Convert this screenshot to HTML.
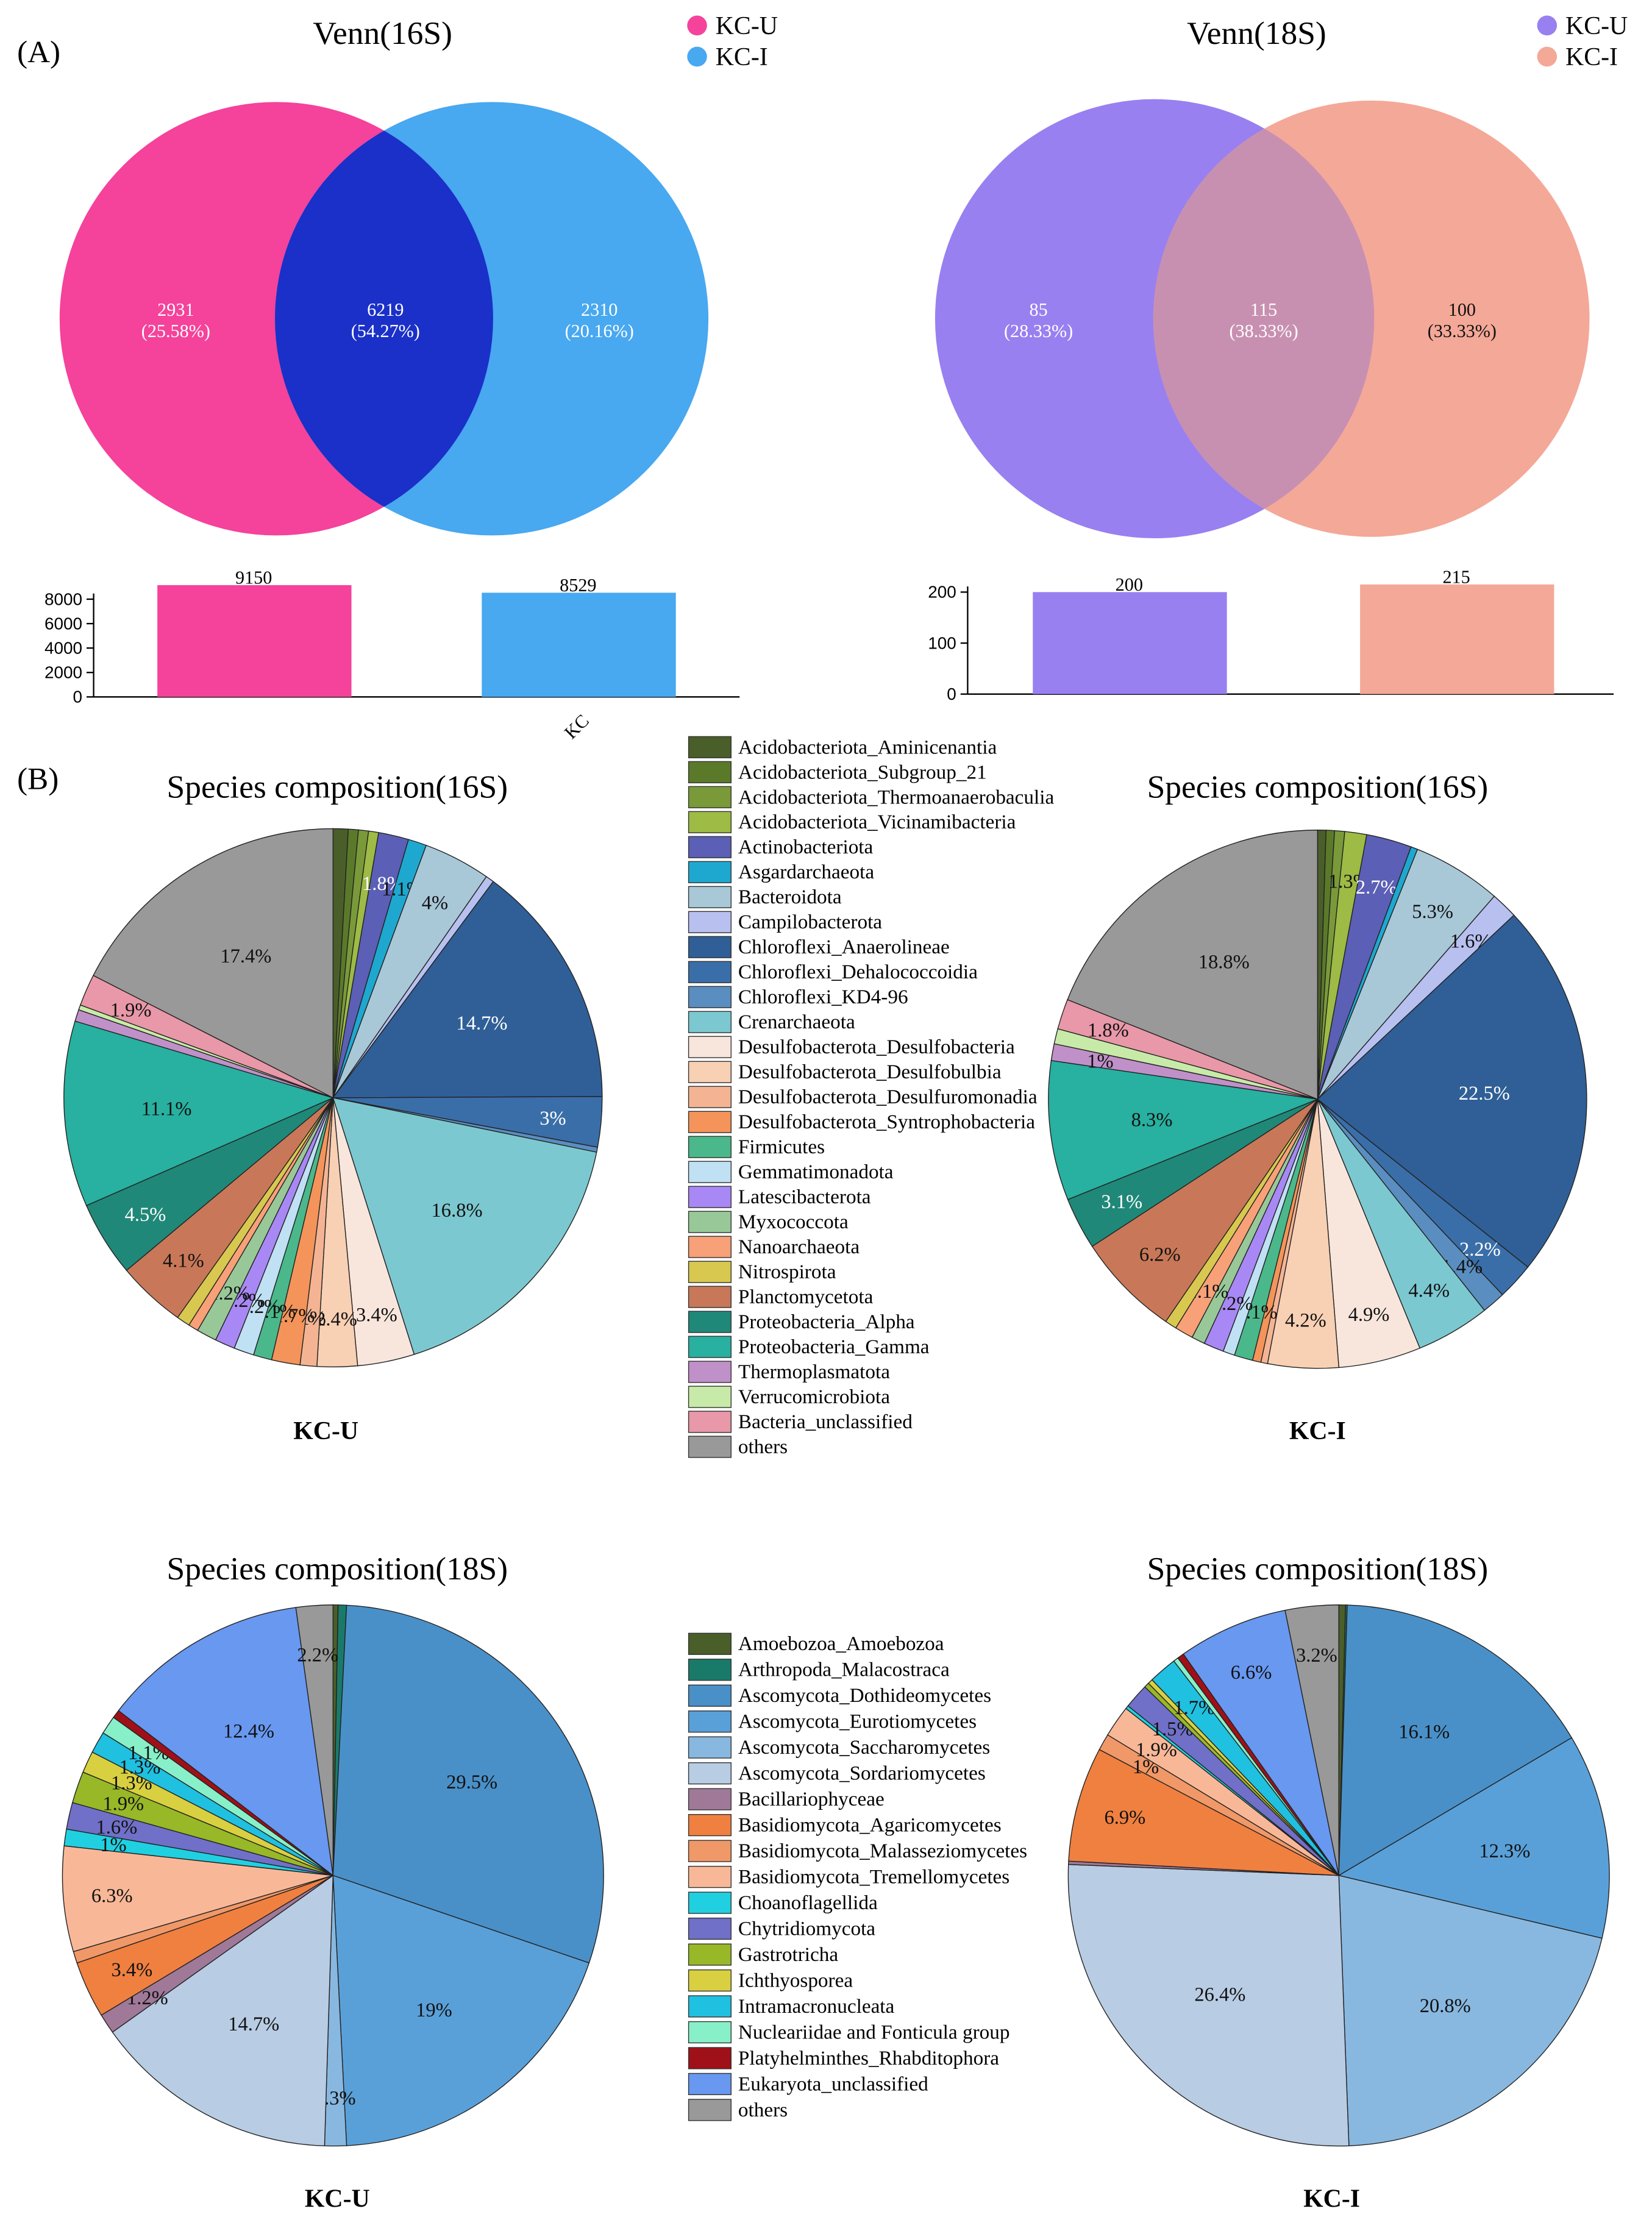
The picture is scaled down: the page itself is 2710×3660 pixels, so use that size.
<!DOCTYPE html>
<html><head><meta charset="utf-8"><style>
html,body{margin:0;padding:0;background:#fff}
svg{display:block;font-family:"Liberation Serif",serif}
</style></head><body>
<svg id="fig" width="2710" height="3660" viewBox="0 0 1166 1575" xmlns="http://www.w3.org/2000/svg">
<rect width="1166" height="1575" fill="#fff"/>
<text x="12" y="44" font-size="22">(A)</text>
<text x="12" y="557" font-size="22">(B)</text>
<g id="venn16">
<text x="270" y="31" font-size="23" text-anchor="middle">Venn(16S)</text>
<circle cx="492" cy="18" r="7" fill="#f5429a"/>
<text x="505" y="24" font-size="18">KC-U</text>
<circle cx="492" cy="40" r="7" fill="#48a8f0"/>
<text x="505" y="46" font-size="18">KC-I</text>
<clipPath id="c16"><circle cx="195" cy="225" r="153"/></clipPath>
<circle cx="195" cy="225" r="153" fill="#f5429a"/>
<circle cx="347" cy="225" r="153" fill="#48a8f0"/>
<circle cx="347" cy="225" r="153" fill="#1a30c8" clip-path="url(#c16)"/>
<g fill="#fff" font-size="13" text-anchor="middle">
<text x="124" y="223">2931</text><text x="124" y="238">(25.58%)</text>
<text x="272" y="223">6219</text><text x="272" y="238">(54.27%)</text>
<text x="423" y="223">2310</text><text x="423" y="238">(20.16%)</text>
</g>
</g>
<g id="venn18">
<text x="887" y="31" font-size="23" text-anchor="middle">Venn(18S)</text>
<circle cx="1092" cy="18" r="7" fill="#9880f0"/>
<text x="1105" y="24" font-size="18">KC-U</text>
<circle cx="1092" cy="40" r="7" fill="#f4a898"/>
<text x="1105" y="46" font-size="18">KC-I</text>
<clipPath id="c18"><circle cx="815" cy="225" r="155"/></clipPath>
<circle cx="815" cy="225" r="155" fill="#9880f0"/>
<circle cx="968" cy="225" r="154" fill="#f4a898"/>
<circle cx="968" cy="225" r="154" fill="#c890b0" clip-path="url(#c18)"/>
<g fill="#fff" font-size="13" text-anchor="middle">
<text x="733" y="223">85</text><text x="733" y="238">(28.33%)</text>
<text x="892" y="223">115</text><text x="892" y="238">(38.33%)</text>
</g>
<g fill="#111" font-size="13" text-anchor="middle">
<text x="1032" y="223">100</text><text x="1032" y="238">(33.33%)</text>
</g>
</g>
<g id="bars"></g>
<g id="pies"></g>
<g id="legends"></g>
<g font-size="23" text-anchor="middle">
<text x="238" y="563">Species composition(16S)</text>
<text x="930" y="563">Species composition(16S)</text>
<text x="238" y="1115">Species composition(18S)</text>
<text x="930" y="1115">Species composition(18S)</text>
</g>
<g font-size="18" font-weight="bold" text-anchor="middle">
<text x="230" y="1016">KC-U</text>
<text x="930" y="1016">KC-I</text>
<text x="238" y="1558">KC-U</text>
<text x="940" y="1558">KC-I</text>
</g>
</svg>
<script>
const bar16Values = [9150, 8529];
const bar16Ticks = [0, 2000, 4000, 6000, 8000];
const bar18Values = [200, 215];
const bar18Ticks = [0, 100, 200];
const cats16 = ["Acidobacteriota_Aminicenantia","Acidobacteriota_Subgroup_21","Acidobacteriota_Thermoanaerobaculia","Acidobacteriota_Vicinamibacteria","Actinobacteriota","Asgardarchaeota","Bacteroidota","Campilobacterota","Chloroflexi_Anaerolineae","Chloroflexi_Dehalococcoidia","Chloroflexi_KD4-96","Crenarchaeota","Desulfobacterota_Desulfobacteria","Desulfobacterota_Desulfobulbia","Desulfobacterota_Desulfuromonadia","Desulfobacterota_Syntrophobacteria","Firmicutes","Gemmatimonadota","Latescibacterota","Myxococcota","Nanoarchaeota","Nitrospirota","Planctomycetota","Proteobacteria_Alpha","Proteobacteria_Gamma","Thermoplasmatota","Verrucomicrobiota","Bacteria_unclassified","others"];
const vals16U = [0.9,0.6,0.6,0.6,1.8,1.1,4,0.5,14.7,3,0.3,16.8,3.4,2.4,1,1.7,1.1,1.2,1.2,1.2,0.6,0.8,4.1,4.5,11.1,0.7,0.3,1.9,17.4];
const vals16I = [0.5,0.5,0.6,1.3,2.7,0.4,5.3,1.6,22.5,2.2,1.4,4.4,4.9,4.2,0.4,0.5,1.1,0.7,1.2,0.8,1.1,0.7,6.2,3.1,8.3,1,0.9,1.8,18.8];
const cats18 = ["Amoebozoa_Amoebozoa","Arthropoda_Malacostraca","Ascomycota_Dothideomycetes","Ascomycota_Eurotiomycetes","Ascomycota_Saccharomycetes","Ascomycota_Sordariomycetes","Bacillariophyceae","Basidiomycota_Agaricomycetes","Basidiomycota_Malasseziomycetes","Basidiomycota_Tremellomycetes","Choanoflagellida","Chytridiomycota","Gastrotricha","Ichthyosporea","Intramacronucleata","Nucleariidae and Fonticula group","Platyhelminthes_Rhabditophora","Eukaryota_unclassified","others"];
const vals18U = [0.3,0.5,29.5,19,1.3,14.7,1.2,3.4,0.7,6.3,1,1.6,1.9,1.3,1.3,1.1,0.5,12.4,2.2];
const vals18I = [0.4,0.1,16.1,12.3,20.8,26.4,0.2,6.9,1,1.9,0.2,1.5,0.3,0.3,1.7,0.3,0.4,6.6,3.2];
const col16 = ["#4a5e2a","#5a7a2a","#7a9a3a","#9dbb45","#5b5fb5","#1ea8d0","#a8c8d8","#b8c0f0","#2f5f96","#3a6ea8","#5a8ec0","#7cc8d0","#f8e6dc","#f8d0b4","#f4b494","#f4945a","#4ab88a","#c0e0f4","#a888f4","#98c898","#f8a078","#d8c850","#c87858","#208878","#28b0a0","#c090c8","#c8eaa8","#e898a8","#999999"];
const col18 = ["#4a5e2a","#1a7a6a","#4a90c8","#5aa0d8","#88b8e0","#b8cce4","#a07898","#f08040","#f09868","#f8b898","#20d0e0","#7070c8","#98b828","#d8d040","#20c0e0","#88f0c8","#a01018","#6898f0","#999999"];
const NS="http://www.w3.org/2000/svg";
function mk(tag,attrs,parent){const e=document.createElementNS(NS,tag);for(const k in attrs)e.setAttribute(k,attrs[k]);parent.appendChild(e);return e;}
const barsG=document.getElementById('bars');
function barChart(vals,ticks,cfg,barCols,prefix){
  const y=v=>cfg.y0-(v-0)*(cfg.y0-cfg.yTop)/(ticks[ticks.length-1]-ticks[0]);
  const ax=mk('line',{x1:cfg.ax,y1:cfg.yTop-4,x2:cfg.ax,y2:cfg.y0,stroke:'#000','stroke-width':1},barsG);
  
  
  const xa=mk('line',{x1:cfg.ax,y1:cfg.y0,x2:cfg.xEnd,y2:cfg.y0,stroke:'#000','stroke-width':1},barsG);
  
  
  ticks.forEach(t=>{
    mk('line',{x1:cfg.ax-5,y1:y(t),x2:cfg.ax,y2:y(t),stroke:'#000'},barsG);
    const tx=mk('text',{x:cfg.ax-8,y:y(t)+4,'font-size':12,'text-anchor':'end','font-family':'Liberation Sans, sans-serif'},barsG);
    tx.textContent=t;
    
    
  });
  vals.forEach((v,i)=>{
    const x=cfg.bx[i];
    const r=mk('rect',{x:x,y:y(v),width:137,height:cfg.y0-y(v),fill:barCols[i]},barsG);
    
    
    const t=mk('text',{x:x+68,y:y(v)-1,'font-size':13,'text-anchor':'middle'},barsG);
    t.textContent=v;
    
    
  });
}
barChart(bar16Values,bar16Ticks,{ax:66,y0:492,yTop:423,xEnd:522,bx:[111,340]},["#f5429a","#48a8f0"],'bar-16s');
barChart(bar18Values,bar18Ticks,{ax:683,y0:490,yTop:418,xEnd:1139,bx:[729,960]},["#9880f0","#f4a898"],'bar-18s');
const kc=mk('text',{x:0,y:0,'font-size':13,transform:'translate(410,516) rotate(-45)','text-anchor':'middle'},barsG);
kc.textContent='KC';



const piesG=document.getElementById('pies');
function lum(h){const n=parseInt(h.slice(1),16);return 0.299*(n>>16)+0.587*((n>>8)&255)+0.114*(n&255);}
function pie(vals,cols,cx,cy,r,prefix,cats){
  const tot=vals.reduce((a,b)=>a+b,0);
  let a=-Math.PI/2;
  vals.forEach((v,i)=>{
    const da=v/tot*2*Math.PI, a2=a+da;
    const x1=cx+r*Math.cos(a),y1=cy+r*Math.sin(a),x2=cx+r*Math.cos(a2),y2=cy+r*Math.sin(a2);
    const p=mk('path',{d:`M${cx},${cy}L${x1},${y1}A${r},${r} 0 ${da>Math.PI?1:0} 1 ${x2},${y2}Z`,fill:cols[i],stroke:'#222','stroke-width':0.6},piesG);
    
    
    if(v>=1){
      const m=(a+a2)/2, lr=r*(v>8?0.62:0.82);
      const t=mk('text',{x:cx+lr*Math.cos(m),y:cy+lr*Math.sin(m)+5,'font-size':14,'text-anchor':'middle',fill:lum(cols[i])<120?'#fff':'#111'},piesG);
      t.textContent=v+'%';
      
      
    }
    a=a2;
  });
}
pie(vals16U,col16,235,775,190,'pie-16s-kcu',cats16);
pie(vals16I,col16,930,776,190,'pie-16s-kci',cats16);
pie(vals18U,col18,235,1324,191,'pie-18s-kcu',cats18);
pie(vals18I,col18,945,1324,191,'pie-18s-kci',cats18);

const legG=document.getElementById('legends');
function legend(cats,cols,y0,dy,prefix){
  cats.forEach((c,i)=>{
    const y=y0+i*dy;
    const r=mk('rect',{x:486,y:y-7,width:30,height:15,fill:cols[i],stroke:'#333','stroke-width':0.6},legG);
    
    
    const t=mk('text',{x:521,y:y+5,'font-size':14.3},legG);
    t.textContent=c;
    
    
  });
}
legend(cats16,col16,527,17.64,'legend-16s');
legend(cats18,col18,1160,18.28,'legend-18s');
</script>
</body></html>
